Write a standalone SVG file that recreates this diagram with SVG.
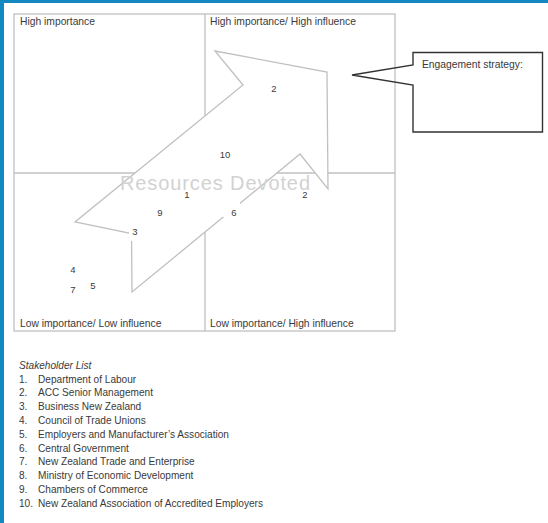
<svg xmlns="http://www.w3.org/2000/svg" width="548" height="523" viewBox="0 0 548 523">
<style>
  .grid{fill:none;stroke:#c0c0c0;stroke-width:1.3}
  .lbl{font-family:"Liberation Sans",Arial,sans-serif;font-size:10.3px;fill:#3a3a3a}
  .num{font-family:"Liberation Sans",Arial,sans-serif;font-size:9.5px;fill:#3a3a3a;text-anchor:middle}
  .arrow{fill:#ffffff;stroke:#c0c0c0;stroke-width:1.3;stroke-linejoin:miter}
  .callout{fill:none;stroke:#333333;stroke-width:1.4}
  .list{font-family:"Liberation Sans",Arial,sans-serif;font-size:10.1px;fill:#3a3a3a}
</style>
<rect x="0" y="0" width="548" height="523" fill="#ffffff"/>
<rect x="0" y="0" width="548" height="3" fill="#1287c0"/>
<rect x="0" y="0" width="4" height="523" fill="#1287c0"/>

<g id="grid">
  <rect class="grid" x="14" y="14" width="381" height="317"/>
  <line class="grid" x1="205" y1="14" x2="205" y2="331"/>
  <line class="grid" x1="14" y1="173" x2="395" y2="173"/>
</g>

<g id="quadrant-labels">
  <g id="q-high-importance"><text class="lbl" x="20" y="25">High importance</text></g>
  <g id="q-high-high"><text class="lbl" x="210" y="25">High importance/ High influence</text></g>
  <g id="q-low-low"><text class="lbl" x="20" y="327">Low importance/ Low influence</text></g>
  <g id="q-low-high"><text class="lbl" x="210" y="327">Low importance/ High influence</text></g>
</g>

<g id="resources-arrow">
  <polygon class="arrow" points="215,51 327,72 328,189 300,154 132,292 131.5,233.5 75,222 243,85"/>
  <text x="120" y="190" font-family="'Liberation Sans',Arial,sans-serif" font-size="20" fill="#d2d2d2" textLength="190" lengthAdjust="spacing">Resources Devoted</text>
</g>

<g id="stakeholders">
  <g id="s2a"><text class="num" x="274" y="91.5">2</text></g>
  <g id="s10"><text class="num" x="225" y="157.5">10</text></g>
  <g id="s1"><text class="num" x="187" y="198">1</text></g>
  <g id="s9"><text class="num" x="160" y="215.5">9</text></g>
  <g id="s3"><rect x="129" y="225" width="12" height="16" fill="#ffffff"/><text class="num" x="135" y="234.5">3</text></g>
  <g id="s6"><rect x="223" y="202" width="17" height="15" fill="#ffffff"/><text class="num" x="234" y="215.5">6</text></g>
  <g id="s2b"><text class="num" x="305" y="198">2</text></g>
  <g id="s4"><text class="num" x="73" y="272.5">4</text></g>
  <g id="s7"><text class="num" x="73" y="293">7</text></g>
  <g id="s5"><text class="num" x="93" y="288.5">5</text></g>
</g>

<g id="engagement-callout">
  <path class="callout" d="M413,65 L413,52.5 L542.5,52.5 L542.5,132 L413,132 L413,85 L352,75 Z"/>
  <text class="lbl" x="422" y="68">Engagement strategy:</text>
</g>

<g id="stakeholder-list" class="list">
  <text x="19" y="368.5" font-style="italic">Stakeholder List</text>
  <text x="19" y="382.5">1.</text><text x="38" y="382.5">Department of Labour</text>
  <text x="19" y="396.3">2.</text><text x="38" y="396.3">ACC Senior Management</text>
  <text x="19" y="410.1">3.</text><text x="38" y="410.1">Business New Zealand</text>
  <text x="19" y="423.9">4.</text><text x="38" y="423.9">Council of Trade Unions</text>
  <text x="19" y="437.7">5.</text><text x="38" y="437.7">Employers and Manufacturer’s Association</text>
  <text x="19" y="451.5">6.</text><text x="38" y="451.5">Central Government</text>
  <text x="19" y="465.3">7.</text><text x="38" y="465.3">New Zealand Trade and Enterprise</text>
  <text x="19" y="479.1">8.</text><text x="38" y="479.1">Ministry of Economic Development</text>
  <text x="19" y="492.9">9.</text><text x="38" y="492.9">Chambers of Commerce</text>
  <text x="19" y="506.7">10.</text><text x="38" y="506.7">New Zealand Association of Accredited Employers</text>
</g>
</svg>
